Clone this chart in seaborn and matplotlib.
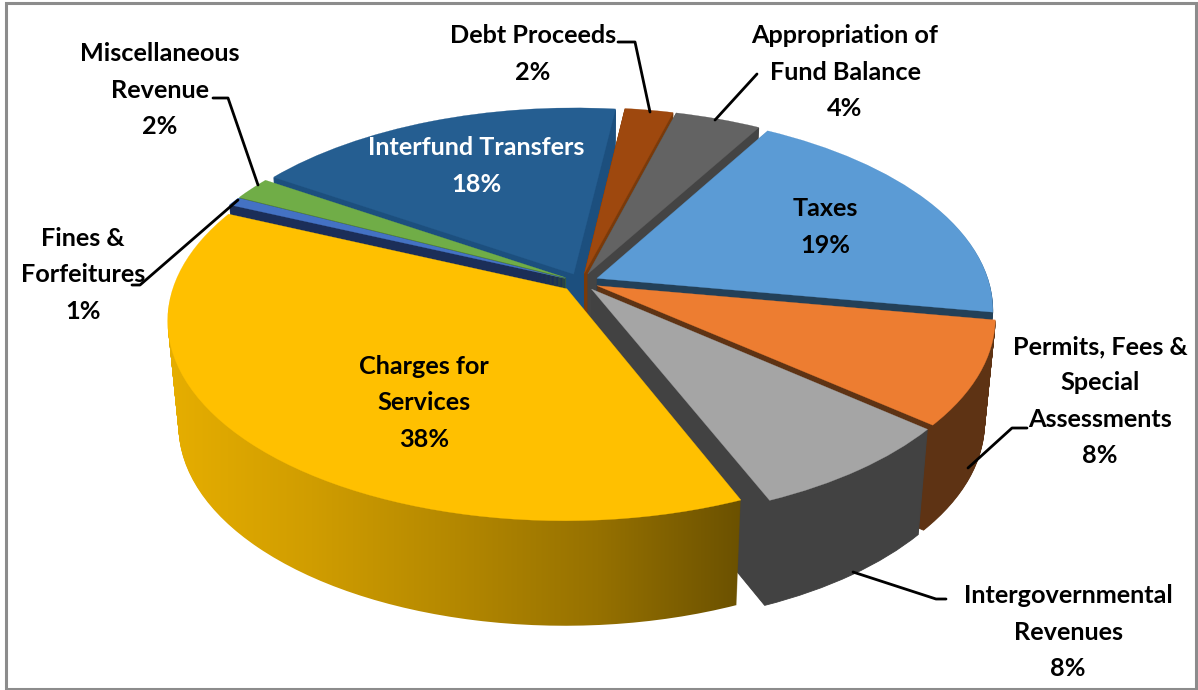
import numpy as np
import matplotlib
matplotlib.use("Agg")
import matplotlib.pyplot as plt
from matplotlib.colors import LinearSegmentedColormap
from matplotlib.lines import Line2D
from matplotlib.patches import Rectangle
from matplotlib.transforms import Transform
import seaborn as sns

categories = ["Taxes", "Permits, Fees &\nSpecial\nAssessments", "Intergovernmental\nRevenues",
              "Charges for\nServices", "Fines &\nForfeitures", "Miscellaneous\nRevenue",
              "Interfund Transfers", "Debt Proceeds", "Appropriation of\nFund Balance"]
values = [19.4, 8.4, 7.6, 37.9, 0.7, 1.9, 17.7, 2.3, 4.1]
top_colors = ["#5B9BD5", "#ED7D31", "#A5A5A5", "#FFC000", "#4472C4", "#70AD47", "#255E91", "#9E480E", "#636363"]
side_colors = ["#234058", "#5E3314", "#424242", "#FFC000", "#1B2E58", "#3F6428", "#1C4F7E", "#7A3A0A", "#444444"]
explode = [0.045, 0.045, 0.045, 0.05, 0.045, 0.045, 0.045, 0.045, 0.045]
label_pos = [(825, 227), (1100, 401), (1068, 632), (424, 403), (83, 275), (160, 90), (476, 166), (533, 54), (845, 72)]
label_color = ["black", "black", "black", "black", "black", "black", "white", "black", "black"]
leaders = [[(618, 42), (635, 42), (650, 112)],
           [(757, 74), (715, 120)],
           [(213, 98), (228, 98), (258, 185)],
           [(132, 285), (140, 285), (238, 200)],
           [(1027, 428), (1012, 428), (968, 468)],
           [(946, 599), (936, 599), (853, 572)]]

W, H = 1198, 690
CX, CY, RX, RY = 581, 282, 392, 194
PERSP = 0.1536
DEPTH = 105
START = 60


class Tilt(Transform):
    """Project the flat pie onto a tilted plane, k pixels below the top face."""
    input_dims = output_dims = 2
    is_separable = False

    def __init__(self, k):
        super().__init__()
        self.k = k

    def transform_non_affine(self, values):
        xy = np.asarray(values, float)
        s = 1.0 / (1.0 + PERSP * xy[:, 1])
        shrink = 1.0 - 0.00025 * self.k
        return np.column_stack((CX + RX * shrink * xy[:, 0] * s, CY + self.k - RY * xy[:, 1] * s))


sns.set_theme(style="white")
plt.rcParams["font.family"] = ["Lato", "DejaVu Sans"]
fig = plt.figure(figsize=(W / 100, H / 100), dpi=100, facecolor="white")
ax = fig.add_axes([0, 0, 1, 1])
gold = LinearSegmentedColormap.from_list("g", ["#E6AE00", "#D09D00", "#B48800", "#967100", "#6B5100"])
grad = np.linspace(0, 1, 256).reshape(1, -1)
charge = categories.index("Charges for\nServices")

for k in range(DEPTH, -1, -1):
    cols = side_colors if k > 0 else top_colors
    wedges, _ = ax.pie(values, colors=cols, explode=explode, startangle=START, counterclock=False, radius=1)
    tr = Tilt(k) + ax.transData
    for w, c in zip(wedges, cols):
        w.set_transform(tr)
        w.set_facecolor(c)
        w.set_edgecolor(c)
        w.set_linewidth(0.6 if k else 0.2)
    if k > 0:
        wedges[charge].set_visible(False)
        im = ax.imshow(grad, cmap=gold, extent=(168, 742, H, 0), aspect="auto",
                       interpolation="bilinear", zorder=wedges[charge].get_zorder())
        im.set_clip_path(wedges[charge])

ax.set_aspect("auto")
ax.set_xlim(0, W)
ax.set_ylim(H, 0)
ax.axis("off")


def fx(x):
    return x / W


def fy(y):
    return 1 - y / H


for lab, v, (x, y), c in zip(categories, values, label_pos, label_color):
    fig.text(fx(x), fy(y), f"{lab}\n{v:.0f}%", ha="center", va="center", ma="center", color=c,
             fontsize=18.2, fontweight="bold", linespacing=1.69)

for pts in leaders:
    xs, ys = zip(*pts)
    fig.add_artist(Line2D([fx(a) for a in xs], [fy(b) for b in ys], color="black", lw=2))

fig.add_artist(Rectangle((fx(6), fy(689)), fx(1190), 686 / H, fill=False, edgecolor="#8C8C8C", lw=2.2,
                         transform=fig.transFigure))
fig.savefig("out.png", dpi=100, facecolor="white")
